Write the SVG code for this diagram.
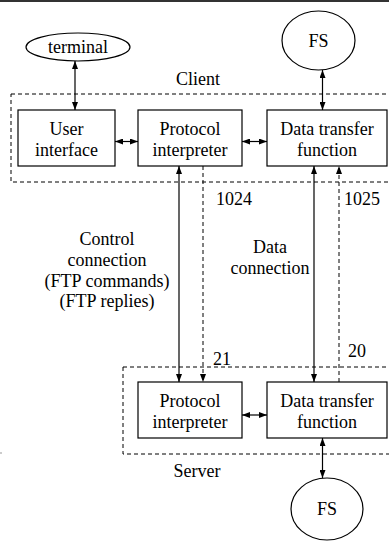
<svg xmlns="http://www.w3.org/2000/svg" width="389" height="542" viewBox="0 0 389 542">
<style>
text{font-family:'Liberation Serif','Times New Roman',serif;font-size:18px;fill:#000;text-anchor:middle}
.box{fill:#fff;stroke:#000;stroke-width:1.2}
.oval{fill:#fff;stroke:#000;stroke-width:1.2}
.grp{fill:none;stroke:#000;stroke-width:1;stroke-dasharray:4 3}
.ln{stroke:#000;stroke-width:1.2;fill:none}
.dash{stroke:#000;stroke-width:1;fill:none;stroke-dasharray:4 3}
.num{text-anchor:start}
</style>
<defs>
<marker id="ah" viewBox="0 0 8 6" refX="8" refY="3" markerWidth="8" markerHeight="6" markerUnits="userSpaceOnUse" orient="auto-start-reverse">
<path d="M0,0 L8,3 L0,6 z" fill="#000"/>
</marker>
</defs>
<rect x="0" y="0" width="389" height="2" fill="#333"/>
<line x1="0" y1="453" x2="2" y2="453" stroke="#999" stroke-width="1"/>
<g id="client">
<rect class="grp" x="11" y="94" width="400" height="88"/>
<text x="198" y="85">Client</text>
</g>
<g id="server">
<rect class="grp" x="123" y="367" width="300" height="87"/>
<text x="197" y="477">Server</text>
</g>
<g id="terminal">
<ellipse class="oval" cx="78" cy="47" rx="52" ry="14"/>
<text x="78" y="53">terminal</text>
</g>
<g id="fs-client">
<ellipse class="oval" cx="318.5" cy="40.5" rx="36.5" ry="29.5"/>
<text x="318.5" y="47">FS</text>
</g>
<g id="fs-server">
<ellipse class="oval" cx="327" cy="509" rx="36" ry="31"/>
<text x="327" y="515">FS</text>
</g>
<g id="ui">
<rect class="box" x="18" y="110" width="97" height="56"/>
<text x="66.5" y="135">User</text>
<text x="66.5" y="156">interface</text>
</g>
<g id="pi-client">
<rect class="box" x="138" y="110" width="104" height="56"/>
<text x="190" y="135">Protocol</text>
<text x="190" y="156">interpreter</text>
</g>
<g id="dtf-client">
<rect class="box" x="267" y="110" width="120" height="56"/>
<text x="327" y="135">Data transfer</text>
<text x="327" y="156">function</text>
</g>
<g id="pi-server">
<rect class="box" x="138" y="382" width="104" height="56"/>
<text x="190" y="407">Protocol</text>
<text x="190" y="428">interpreter</text>
</g>
<g id="dtf-server">
<rect class="box" x="267" y="382" width="120" height="56"/>
<text x="327" y="407">Data transfer</text>
<text x="327" y="428">function</text>
</g>
<g id="connectors">
<line class="ln" x1="75" y1="61" x2="75" y2="110" marker-start="url(#ah)" marker-end="url(#ah)"/>
<line class="ln" x1="322.5" y1="70" x2="322.5" y2="110" marker-start="url(#ah)" marker-end="url(#ah)"/>
<line class="ln" x1="115" y1="141.5" x2="138" y2="141.5" marker-start="url(#ah)" marker-end="url(#ah)"/>
<line class="ln" x1="242" y1="141.5" x2="267" y2="141.5" marker-start="url(#ah)" marker-end="url(#ah)"/>
<line class="ln" x1="242" y1="415" x2="267" y2="415" marker-start="url(#ah)" marker-end="url(#ah)"/>
<line class="ln" x1="179" y1="166" x2="179" y2="382" marker-start="url(#ah)" marker-end="url(#ah)"/>
<line class="dash" x1="203" y1="166" x2="203" y2="382" marker-end="url(#ah)"/>
<line class="ln" x1="314" y1="166" x2="314" y2="382" marker-start="url(#ah)" marker-end="url(#ah)"/>
<line class="dash" x1="339" y1="382" x2="339" y2="166" marker-end="url(#ah)"/>
<line class="ln" x1="322.5" y1="438" x2="322.5" y2="478" marker-start="url(#ah)" marker-end="url(#ah)"/>
</g>
<g id="labels">
<text class="num" x="216" y="205">1024</text>
<text class="num" x="344" y="205">1025</text>
<text class="num" x="213" y="365">21</text>
<text class="num" x="348" y="357">20</text>
<text x="107" y="245">Control</text>
<text x="107" y="266">connection</text>
<text x="107" y="287">(FTP commands)</text>
<text x="107" y="307">(FTP replies)</text>
<text x="270" y="253">Data</text>
<text x="270" y="274">connection</text>
</g>
</svg>
